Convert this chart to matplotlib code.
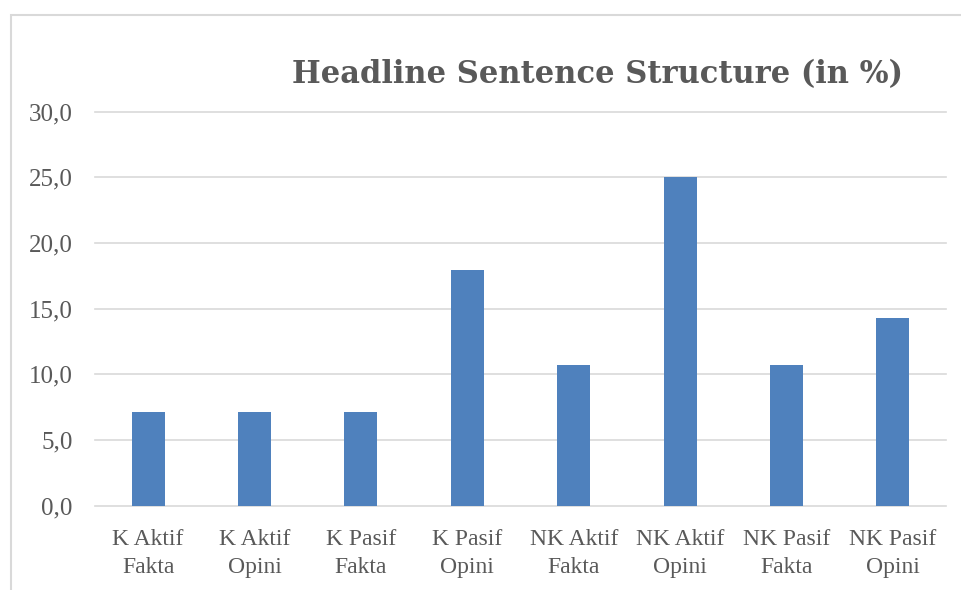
import matplotlib
matplotlib.use("Agg")
import matplotlib.pyplot as plt
from matplotlib.patches import Rectangle

categories = ["K Aktif\nFakta", "K Aktif\nOpini", "K Pasif\nFakta", "K Pasif\nOpini",
              "NK Aktif\nFakta", "NK Aktif\nOpini", "NK Pasif\nFakta", "NK Pasif\nOpini"]
values = [7.1, 7.1, 7.1, 17.9, 10.7, 25.0, 10.7, 14.3]
yticks = [0, 5, 10, 15, 20, 25, 30]

text_color = "#595959"
grid_color = "#D9D9D9"
bar_color = "#4F81BD"

plt.rcParams["font.family"] = ["Liberation Serif", "DejaVu Serif"]

fig = plt.figure(figsize=(9.61, 5.90), dpi=100)
ax = fig.add_axes([95 / 961, 1 - 505.7 / 590, (946 - 95) / 961, (505.7 - 111.5) / 590])

x = range(len(categories))
ax.bar(x, values, width=0.31, color=bar_color, zorder=3)

ax.set_xlim(-0.5, len(categories) - 0.5)
ax.set_ylim(0, 30)
ax.set_yticks(yticks)
ax.set_yticklabels([f"{v:.1f}".replace(".", ",") for v in yticks])
ax.set_xticks(list(x))
ax.set_xticklabels(categories, linespacing=1.4)
ax.tick_params(axis="both", length=0, colors=text_color)
ax.tick_params(axis="y", pad=16, labelsize=18)
ax.tick_params(axis="x", pad=17, labelsize=17)
ax.grid(axis="y", color=grid_color, linewidth=1.2, zorder=0)
for gl in ax.get_ygridlines():
    gl.set_clip_on(False)
for s in ax.spines.values():
    s.set_visible(False)

fig.text(598 / 961, 1 - 75 / 590, "Headline Sentence Structure (in %)", ha="center", va="center",
         fontsize=22, fontweight="heavy", color=text_color, family="DejaVu Serif")

# outer chart border, partly cut off at right and bottom
fig.patches.append(Rectangle((11 / 961, -0.05), 1.1, 1 - 15 / 590 + 0.05, transform=fig.transFigure,
                             fill=False, edgecolor=grid_color, linewidth=1.5))

fig.savefig("out.png", dpi=100)
